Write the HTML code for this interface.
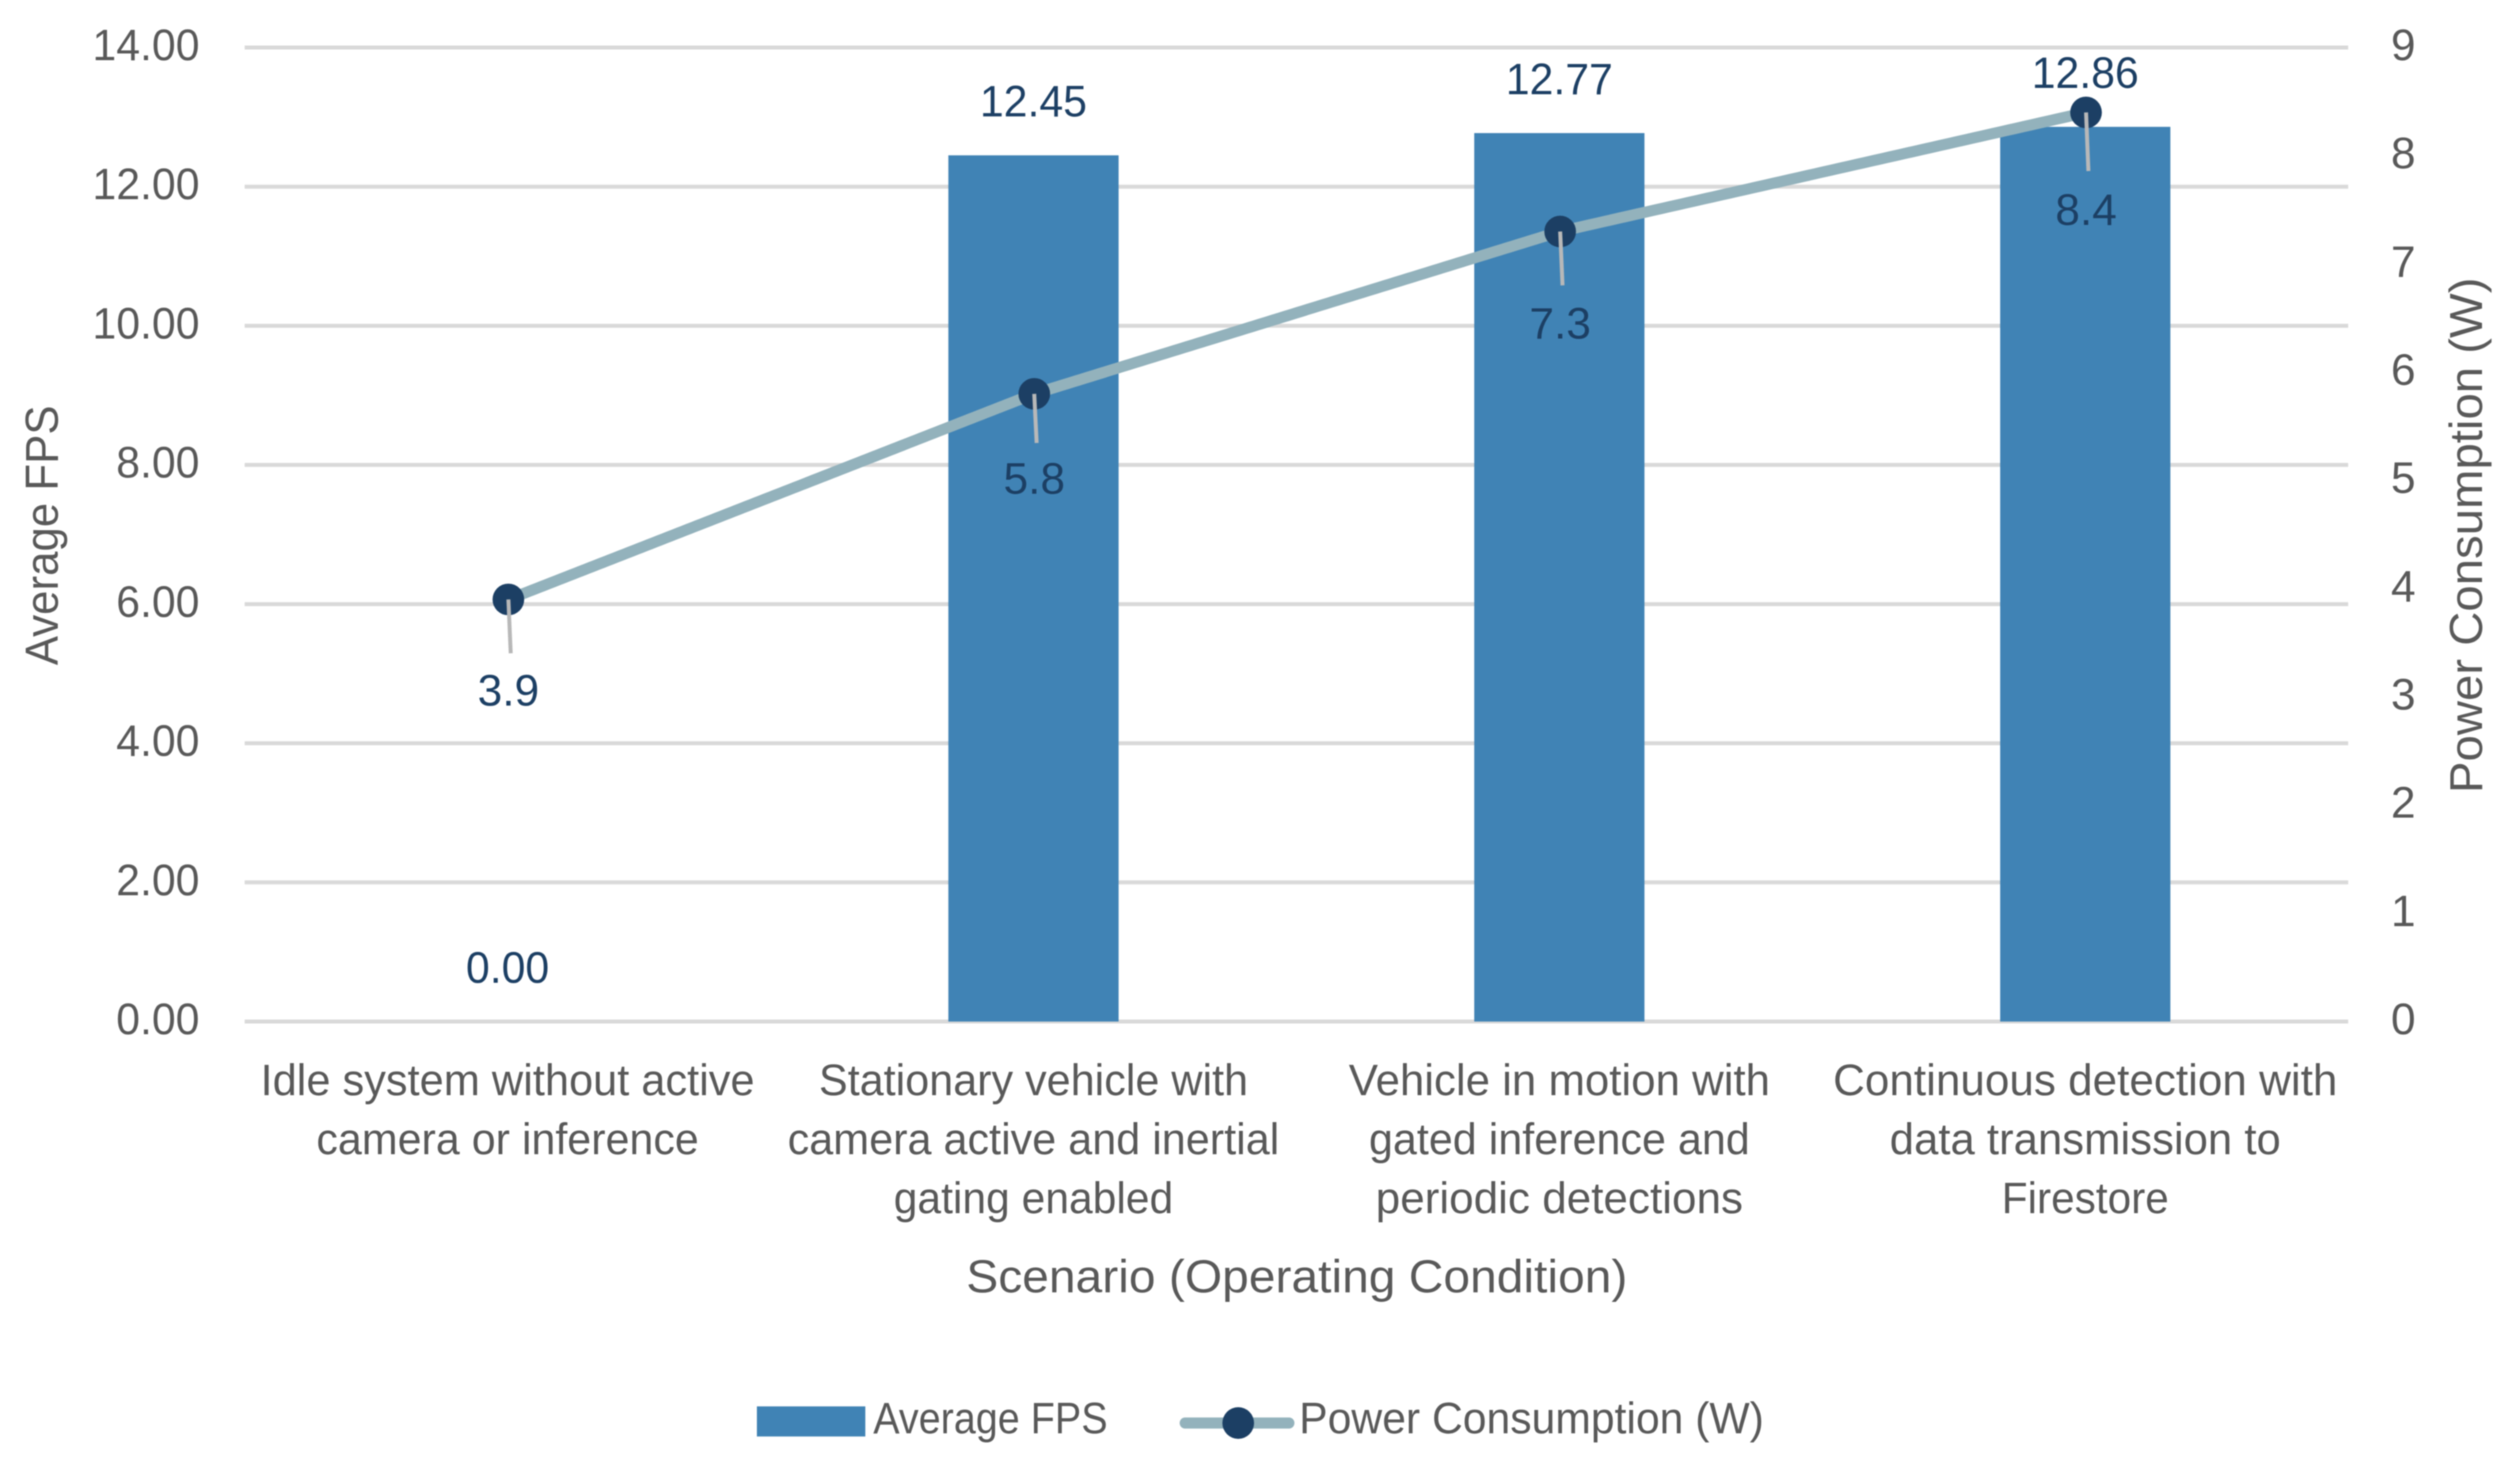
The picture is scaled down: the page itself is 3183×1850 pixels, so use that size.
<!DOCTYPE html>
<html lang="en">
<head>
<meta charset="utf-8">
<title>Average FPS and Power Consumption by Scenario</title>
<style>
  html, body { margin: 0; padding: 0; background: #fff; width: 3183px; height: 1850px; overflow: hidden; }
  svg { display: block; filter: blur(0.7px); }
  text { font-family: "Liberation Sans", sans-serif; }
  .axis-text { fill: #595959; font-size: 56px; }
  .title-text { fill: #595959; font-size: 58px; }
  .value-text { fill: #1c3f64; font-size: 56px; }
</style>
</head>
<body>
<svg id="chart" xmlns="http://www.w3.org/2000/svg" width="3183" height="1850" viewBox="0 0 3183 1850">
  <rect x="0" y="0" width="3183" height="1850" fill="#ffffff"/>
  <g id="gridlines"></g>
  <g id="bars"></g>
  <g id="line-layer"></g>
  <g id="left-ticks"></g>
  <g id="right-ticks"></g>
  <g id="category-labels"></g>
  <g id="value-labels"></g>

  <text class="title-text" transform="translate(73,676) rotate(-90)" text-anchor="middle" textLength="328" lengthAdjust="spacingAndGlyphs">Average FPS</text>
  <text class="title-text" transform="translate(3135,676) rotate(-90)" text-anchor="middle" textLength="651" lengthAdjust="spacingAndGlyphs">Power Consumption (W)</text>
  <text class="title-text" x="1638" y="1632" text-anchor="middle" textLength="835" lengthAdjust="spacingAndGlyphs">Scenario (Operating Condition)</text>

  <g>
    <g>
      <rect x="956" y="1776" width="137" height="38" fill="#4083b5"/>
      <text class="axis-text" x="1103" y="1810" textLength="296" lengthAdjust="spacingAndGlyphs">Average FPS</text>
    </g>
    <g>
      <line x1="1497" y1="1797" x2="1628" y2="1797" stroke="#93b2bc" stroke-width="14" stroke-linecap="round"/>
      <circle cx="1564" cy="1797" r="20" fill="#1c3f64"/>
      <text class="axis-text" x="1641" y="1810" textLength="587" lengthAdjust="spacingAndGlyphs">Power Consumption (W)</text>
    </g>
  </g>
</svg>

<script>
const categories = [
  ["Idle system without active", "camera or inference"],
  ["Stationary vehicle with", "camera active and inertial", "gating enabled"],
  ["Vehicle in motion with", "gated inference and", "periodic detections"],
  ["Continuous detection with", "data transmission to", "Firestore"]
];
const averageFps = [0.00, 12.45, 12.77, 12.86];
const powerWatts = [3.9, 5.8, 7.3, 8.4];
const leftTicks = [0, 2, 4, 6, 8, 10, 12, 14];
const rightTicks = [0, 1, 2, 3, 4, 5, 6, 7, 8, 9];

const SVG_NS = "http://www.w3.org/2000/svg";
const plot = { left: 309, right: 2966, top: 60, bottom: 1290 };
const leftMax = 14;
const rightMax = 9;
const barWidth = 215;

function xCenter(i) {
  return plot.left + (plot.right - plot.left) * (i + 0.5) / categories.length;
}
function yLeft(v) {
  return plot.bottom - (plot.bottom - plot.top) * v / leftMax;
}
function yRight(v) {
  return plot.bottom - (plot.bottom - plot.top) * v / rightMax;
}
function make(tag, attrs, parent, text) {
  const el = document.createElementNS(SVG_NS, tag);
  for (const k in attrs) el.setAttribute(k, attrs[k]);
  if (text !== undefined) el.textContent = text;
  parent.appendChild(el);
  return el;
}
function fit(el, ratio) {
  el.setAttribute("textLength", (el.getComputedTextLength() * ratio).toFixed(1));
  el.setAttribute("lengthAdjust", "spacingAndGlyphs");
}

function render() {
  const gridG = document.getElementById("gridlines");
  const barsG = document.getElementById("bars");
  const lineG = document.getElementById("line-layer");
  const leftG = document.getElementById("left-ticks");
  const rightG = document.getElementById("right-ticks");
  const catG = document.getElementById("category-labels");
  const valG = document.getElementById("value-labels");

  leftTicks.forEach(function (t) {
    const grid = make("line", { x1: plot.left, x2: plot.right, y1: yLeft(t), y2: yLeft(t), stroke: "#d9d9d9", "stroke-width": 5 }, gridG);
    
    
    const label = make("text", { x: 252, y: yLeft(t) + 16, "text-anchor": "end", class: "axis-text" }, leftG, t.toFixed(2));
    
    
    fit(label, 0.965);
  });

  rightTicks.forEach(function (t) {
    const label = make("text", { x: 3020, y: yRight(t) + 16, class: "axis-text" }, rightG, String(t));
    
    
  });

  averageFps.forEach(function (v, i) {
    const bar = make("rect", { x: xCenter(i) - barWidth / 2, y: yLeft(v), width: barWidth, height: plot.bottom - yLeft(v), fill: "#4083b5" }, barsG);
    
    
    const label = make("text", { x: xCenter(i), y: yLeft(v) - 49, "text-anchor": "middle", class: "value-text" }, valG, v.toFixed(2));
    
    
    fit(label, 0.965);
  });

  const points = powerWatts.map(function (v, i) {
    return (xCenter(i) + 1).toFixed(1) + "," + yRight(v).toFixed(1);
  }).join(" ");
  const line = make("polyline", { points: points, fill: "none", stroke: "#93b2bc", "stroke-width": 14, "stroke-linecap": "round", "stroke-linejoin": "round" }, lineG);
  
  

  // Hand-placed callouts: how far each leader and label sits below its marker.
  const leaderDrop = [68, 62, 68, 74];
  const labelDrop = [134, 126, 135, 142];
  powerWatts.forEach(function (v, i) {
    const x = xCenter(i) + 1;
    const y = yRight(v);
    const marker = make("circle", { cx: x, cy: y, r: 20, fill: "#1c3f64" }, lineG);
    
    
    const leader = make("line", { x1: x, y1: y, x2: x + 3, y2: y + leaderDrop[i], stroke: "#b8b8b8", "stroke-width": 5 }, lineG);
    
    
    const label = make("text", { x: x, y: y + labelDrop[i], "text-anchor": "middle", class: "value-text" }, valG, v.toFixed(1));
    
    
  });

  // Rendered width of each wrapped category line, to mirror the narrower source typeface.
  const lineWidths = [
    [624, 483],
    [542, 621, 353],
    [532, 481, 464],
    [637, 494, 211]
  ];
  categories.forEach(function (lines, i) {
    lines.forEach(function (s, j) {
      const label = make("text", { x: xCenter(i), y: 1383 + j * 74.5, "text-anchor": "middle", class: "axis-text", textLength: lineWidths[i][j], lengthAdjust: "spacingAndGlyphs" }, catG, s);
      
      
    });
  });
}
render();
</script>
</body>
</html>
